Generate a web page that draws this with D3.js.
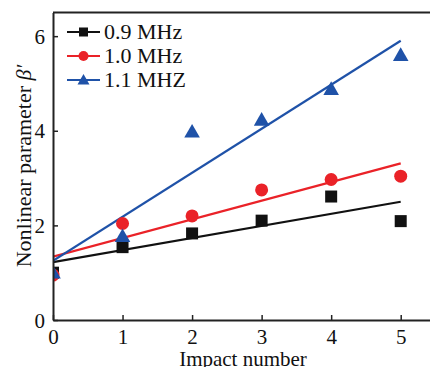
<!DOCTYPE html>
<html><head><meta charset="utf-8">
<script src="https://cdn.jsdelivr.net/npm/d3@7"></script>
<style>html,body{margin:0;padding:0;background:#fff;}svg{display:block;}svg text{font-family:"Liberation Serif","Times New Roman",Times,serif !important;}</style>
</head><body>
<script>
const impacts = [0, 1, 2, 3, 4, 5];
const seriesNames = ["0.9 MHz", "1.0 MHz", "1.1 MHZ"];
const values09 = [1.00, 1.54, 1.83, 2.10, 2.61, 2.09];
const values10 = [0.95, 2.04, 2.20, 2.75, 2.97, 3.04];
const values11 = [1.00, 1.77, 3.98, 4.23, 4.88, 5.60];
const xTicks = [0, 1, 2, 3, 4, 5];
const yTicks = [0, 2, 4, 6];
const colors = ["#111111", "#ea2228", "#1f52a8"];
const shapes = ["square", "circle", "triangle"];

const W = 430, H = 367;
const m = {left: 53, top: 12.5, right: 432, bottom: 320};
const svg = d3.select("body").append("svg").attr("width", W).attr("height", H);
const x = d3.scaleLinear().domain([0, 5.45]).range([m.left, m.right]);
const y = d3.scaleLinear().domain([0, 6.5]).range([m.bottom, m.top]);

svg.append("defs").append("clipPath").attr("id", "pc")
  .append("rect").attr("x", m.left).attr("y", m.top).attr("width", m.right - m.left).attr("height", m.bottom - m.top);

function fit(vals) {
  const mx = d3.mean(impacts), my = d3.mean(vals);
  let sxy = 0, sxx = 0;
  impacts.forEach((xi, i) => { sxy += (xi - mx) * (vals[i] - my); sxx += (xi - mx) * (xi - mx); });
  const b = sxy / sxx, a = my - b * mx;
  return [[0, a], [5, a + 5 * b]];
}

function marker(g, shape, cx, cy, s, color) {
  if (shape === "square") {
    g.append("rect").attr("x", cx - s / 2).attr("y", cy - s / 2).attr("width", s).attr("height", s).attr("fill", color);
  } else if (shape === "circle") {
    g.append("circle").attr("cx", cx).attr("cy", cy).attr("r", s / 2).attr("fill", color);
  } else {
    const w = s * 1.2, h = s;
    g.append("path").attr("d", `M${cx},${cy - h * 0.6}L${cx + w / 2},${cy + h * 0.45}L${cx - w / 2},${cy + h * 0.45}Z`).attr("fill", color);
  }
}

const plot = svg.append("g").attr("clip-path", "url(#pc)");
const allSeries = [values09, values10, values11];
const markerSizes = [12, 13, 13];
allSeries.forEach((vals, si) => {
  const f = fit(vals);
  plot.append("line").attr("x1", x(f[0][0])).attr("y1", y(f[0][1])).attr("x2", x(f[1][0])).attr("y2", y(f[1][1]))
    .attr("stroke", colors[si]).attr("stroke-width", 2.2);
});
allSeries.forEach((vals, si) => {
  vals.forEach((v, i) => marker(plot, shapes[si], x(impacts[i]), y(v), markerSizes[si], colors[si]));
});

// axes
const ax = svg.append("g").attr("transform", `translate(0,${m.bottom})`)
  .call(d3.axisBottom(x).tickValues(xTicks).tickSizeInner(-5).tickSizeOuter(0).tickPadding(12).tickFormat(d3.format("d")));
const ay = svg.append("g").attr("transform", `translate(${m.left},0)`)
  .call(d3.axisLeft(y).tickValues(yTicks).tickSizeInner(-5).tickSizeOuter(0).tickPadding(8).tickFormat(d3.format("d")));
[ax, ay].forEach(a => {
  a.attr("font-family", null).attr("font-size", 21);
  a.select(".domain").attr("stroke", "#222").attr("stroke-width", 2);
  a.selectAll(".tick line").attr("stroke", "#222").attr("stroke-width", 1.5);
  a.selectAll(".tick text").attr("fill", "#111");
});
ax.selectAll(".tick text").attr("dy", null).attr("y", 24);
ay.selectAll(".tick text").attr("dy", "0.34em");
// top border
svg.append("line").attr("x1", m.left).attr("x2", m.right).attr("y1", m.top).attr("y2", m.top)
  .attr("stroke", "#222").attr("stroke-width", 2);

svg.append("text").attr("x", 243).attr("y", 366).attr("text-anchor", "middle")
  .attr("font-size", 21).attr("fill", "#111").text("Impact number");
const yl = svg.append("text").attr("transform", "translate(31,166) rotate(-90)").attr("text-anchor", "middle")
  .attr("font-size", 22).attr("fill", "#111");
yl.append("tspan").text("Nonlinear parameter ");
yl.append("tspan").attr("font-style", "italic").text("β′");

// legend
const legRows = [32, 56, 80];
const legSizes = [9, 10, 10];
seriesNames.forEach((name, i) => {
  const g = svg.append("g");
  g.append("line").attr("x1", 67).attr("x2", 100).attr("y1", legRows[i]).attr("y2", legRows[i])
    .attr("stroke", colors[i]).attr("stroke-width", 2.2);
  marker(g, shapes[i], 83.5, legRows[i], legSizes[i], colors[i]);
  g.append("text").attr("x", 104).attr("y", legRows[i] + 7).attr("font-size", 22)
    .attr("fill", "#111").text(name);
});
</script>
</body></html>
